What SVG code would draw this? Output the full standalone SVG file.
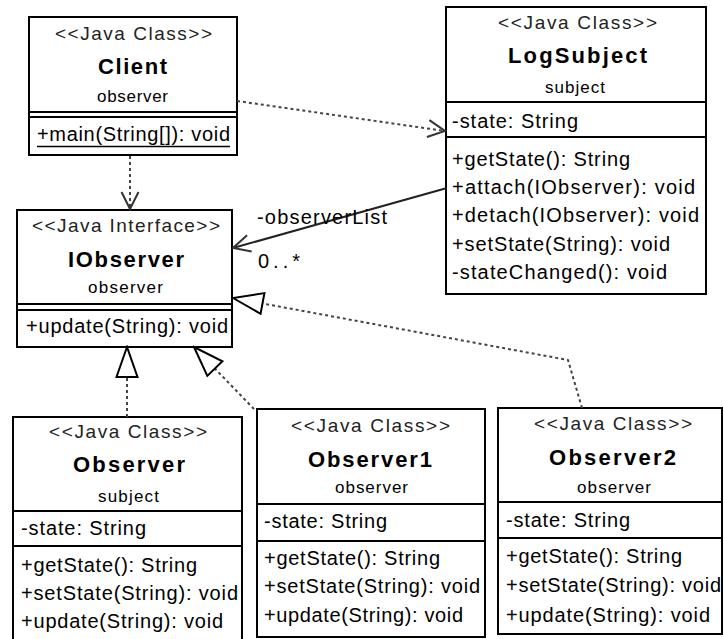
<svg xmlns="http://www.w3.org/2000/svg" width="724" height="639" viewBox="0 0 724 639">
<defs>
<marker id="open" markerUnits="userSpaceOnUse" viewBox="0 0 20 20" refX="18" refY="10" markerWidth="20" markerHeight="20" orient="auto">
<path d="M1,1.5 L18,10 L1,18.5" fill="none" stroke="#333" stroke-width="2"/>
</marker>
<marker id="tri" markerUnits="userSpaceOnUse" viewBox="0 0 34 24" refX="32" refY="12" markerWidth="34" markerHeight="24" orient="auto">
<path d="M32,12 L2,1.5 L2,22.5 Z" fill="#fff" stroke="#000" stroke-width="2"/>
</marker>
<style>
.box{fill:#fff;stroke:#000;stroke-width:2}
.sep{stroke:#000;stroke-width:2}
text{font-family:"Liberation Sans",Arial,sans-serif;fill:#000}
.st{font-size:19px;fill:#222}
.nm{font-size:22px;font-weight:bold}
.pk{font-size:17px}
.mb{font-size:20px}
.dash{fill:none;stroke:#444;stroke-width:2;stroke-dasharray:3 3}
.solid{fill:none;stroke:#222;stroke-width:2}
</style>
</defs>
<rect width="724" height="639" fill="#fff"/>

<g id="Client">
<rect class="box" x="29" y="17" width="208" height="138"/>
<line class="sep" x1="29" y1="112" x2="237" y2="112"/>
<line class="sep" x1="29" y1="117" x2="237" y2="117"/>
<text class="st" x="55" y="40" textLength="157" lengthAdjust="spacing">&lt;&lt;Java Class&gt;&gt;</text>
<text class="nm" x="98" y="74" textLength="69" lengthAdjust="spacing">Client</text>
<text class="pk" x="97" y="102" textLength="71" lengthAdjust="spacing">observer</text>
<text class="mb" x="37" y="141" textLength="193" lengthAdjust="spacing">+main(String[]): void</text>
<line x1="37" y1="146.5" x2="230" y2="146.5" stroke="#000" stroke-width="1.5"/>
</g>

<g id="LogSubject">
<rect class="box" x="446" y="7" width="260" height="287"/>
<line class="sep" x1="446" y1="102" x2="706" y2="102"/>
<line class="sep" x1="446" y1="137" x2="706" y2="137"/>
<text class="st" x="498" y="29" textLength="159" lengthAdjust="spacing">&lt;&lt;Java Class&gt;&gt;</text>
<text class="nm" x="508" y="63" textLength="139" lengthAdjust="spacing">LogSubject</text>
<text class="pk" x="545" y="93" textLength="60" lengthAdjust="spacing">subject</text>
<text class="mb" x="452" y="128" textLength="126" lengthAdjust="spacing">-state: String</text>
<text class="mb" x="452" y="166" textLength="178" lengthAdjust="spacing">+getState(): String</text>
<text class="mb" x="452" y="194" textLength="243" lengthAdjust="spacing">+attach(IObserver): void</text>
<text class="mb" x="452" y="222" textLength="247" lengthAdjust="spacing">+detach(IObserver): void</text>
<text class="mb" x="452" y="251" textLength="218" lengthAdjust="spacing">+setState(String): void</text>
<text class="mb" x="452" y="279" textLength="215" lengthAdjust="spacing">-stateChanged(): void</text>
</g>

<g id="IObserver">
<rect class="box" x="17" y="210" width="215" height="137"/>
<line class="sep" x1="17" y1="304" x2="232" y2="304"/>
<line class="sep" x1="17" y1="310" x2="232" y2="310"/>
<text class="st" x="32" y="232" textLength="188" lengthAdjust="spacing">&lt;&lt;Java Interface&gt;&gt;</text>
<text class="nm" x="68" y="267" textLength="116" lengthAdjust="spacing">IObserver</text>
<text class="pk" x="88" y="293" textLength="75" lengthAdjust="spacing">observer</text>
<text class="mb" x="26" y="333" textLength="202" lengthAdjust="spacing">+update(String): void</text>
</g>

<g id="Observer">
<rect class="box" x="13" y="417" width="229" height="232"/>
<line class="sep" x1="13" y1="511" x2="242" y2="511"/>
<line class="sep" x1="13" y1="546" x2="242" y2="546"/>
<text class="st" x="49" y="438" textLength="158" lengthAdjust="spacing">&lt;&lt;Java Class&gt;&gt;</text>
<text class="nm" x="73" y="472" textLength="112" lengthAdjust="spacing">Observer</text>
<text class="pk" x="98" y="502" textLength="61" lengthAdjust="spacing">subject</text>
<text class="mb" x="21" y="535" textLength="125" lengthAdjust="spacing">-state: String</text>
<text class="mb" x="21" y="572" textLength="176" lengthAdjust="spacing">+getState(): String</text>
<text class="mb" x="21" y="600" textLength="217" lengthAdjust="spacing">+setState(String): void</text>
<text class="mb" x="21" y="628" textLength="202" lengthAdjust="spacing">+update(String): void</text>
</g>

<g id="Observer1">
<rect class="box" x="257" y="409" width="228" height="228"/>
<line class="sep" x1="257" y1="504" x2="485" y2="504"/>
<line class="sep" x1="257" y1="541" x2="485" y2="541"/>
<text class="st" x="291" y="432" textLength="159" lengthAdjust="spacing">&lt;&lt;Java Class&gt;&gt;</text>
<text class="nm" x="308" y="467" textLength="124" lengthAdjust="spacing">Observer1</text>
<text class="pk" x="335" y="493" textLength="73" lengthAdjust="spacing">observer</text>
<text class="mb" x="264" y="528" textLength="123" lengthAdjust="spacing">-state: String</text>
<text class="mb" x="264" y="565" textLength="176" lengthAdjust="spacing">+getState(): String</text>
<text class="mb" x="264" y="593" textLength="216" lengthAdjust="spacing">+setState(String): void</text>
<text class="mb" x="264" y="622" textLength="199" lengthAdjust="spacing">+update(String): void</text>
</g>

<g id="Observer2">
<rect class="box" x="498" y="408" width="224" height="226"/>
<line class="sep" x1="498" y1="502" x2="722" y2="502"/>
<line class="sep" x1="498" y1="538" x2="722" y2="538"/>
<text class="st" x="534" y="430" textLength="158" lengthAdjust="spacing">&lt;&lt;Java Class&gt;&gt;</text>
<text class="nm" x="549" y="465" textLength="127" lengthAdjust="spacing">Observer2</text>
<text class="pk" x="577" y="493" textLength="74" lengthAdjust="spacing">observer</text>
<text class="mb" x="506" y="527" textLength="124" lengthAdjust="spacing">-state: String</text>
<text class="mb" x="506" y="563" textLength="176" lengthAdjust="spacing">+getState(): String</text>
<text class="mb" x="506" y="592" textLength="215" lengthAdjust="spacing">+setState(String): void</text>
<text class="mb" x="506" y="622" textLength="204" lengthAdjust="spacing">+update(String): void</text>
</g>

<g id="connectors">
<path class="dash" d="M237,101 L445,131" marker-end="url(#open)"/>
<path class="dash" d="M130,156 L130,209" marker-end="url(#open)"/>
<path class="solid" d="M447,188 L233,248" marker-end="url(#open)"/>
<text class="mb" x="257" y="224" textLength="130" lengthAdjust="spacing">-observerList</text>
<text class="mb" x="258" y="268" textLength="42" lengthAdjust="spacing">0..*</text>
<path class="dash" d="M127,417 L127,347" marker-end="url(#tri)"/>
<path class="dash" d="M254,409 L194,347" marker-end="url(#tri)"/>
<path class="dash" d="M582,408 L568,360 L233,298" marker-end="url(#tri)"/>
</g>
</svg>
